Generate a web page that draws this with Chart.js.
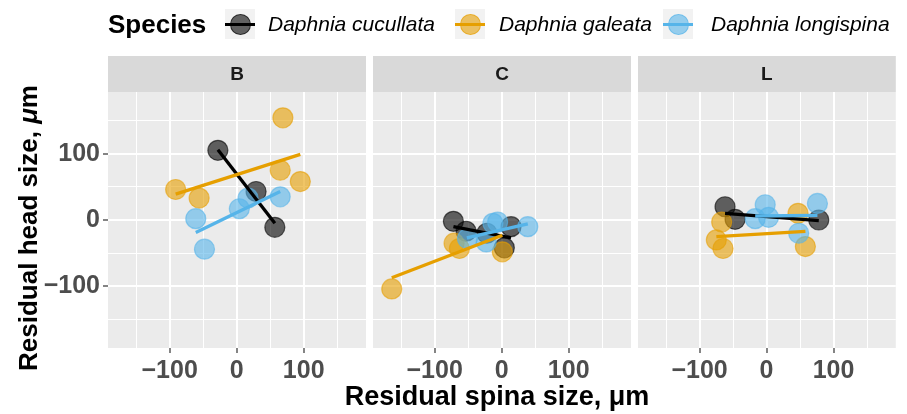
<!DOCTYPE html>
<html>
<head>
<meta charset="utf-8">
<script src="https://cdn.jsdelivr.net/npm/chart.js@4.4.1/dist/chart.umd.min.js"></script>
<style>
    body { margin: 0; background: #fff; font-family: "Liberation Sans", Arial, sans-serif; }
    #wrap { position: relative; width: 907px; height: 414px; overflow: hidden; }
    canvas { position: absolute; left: 0; top: 0; }
    .txt { position: absolute; white-space: nowrap; color: #000; }
    .key { position: absolute; top: 9px; width: 30px; height: 30px; background: #F2F2F2; }
    .key .dot { position: absolute; left: 4.5px; top: 4.5px; width: 19px; height: 19px; border-radius: 50%; border-width: 1px; border-style: solid; }
    .key .bar { position: absolute; left: 0; top: 13.5px; width: 30px; height: 3px; }
    .lab { position: absolute; top: 10px; line-height: 28px; font-size: 21px; font-style: italic; white-space: nowrap; }
</style>
</head>
<body>
<div id="wrap">
    <canvas id="B" width="907" height="414"></canvas>
    <canvas id="C" width="907" height="414"></canvas>
    <canvas id="L" width="907" height="414"></canvas>

    <div class="txt" style="left:108px; top:10px; line-height:28px; font-size:26px; font-weight:bold;">Species</div>
    <div id="Legend"></div>

    <div class="txt" style="left:297px; top:381px; width:400px; text-align:center; line-height:30px; font-size:27px; font-weight:bold;">Residual spina size, μm</div>
    <div class="txt" style="left:-172px; top:213px; width:400px; text-align:center; line-height:30px; font-size:26px; font-weight:bold; transform:rotate(-90deg);">Residual head size, <i>μ</i>m</div>
</div>

<script>
// facets and groups
var panels = ['B', 'C', 'L']
var species = ['Daphnia cucullata', 'Daphnia galeata', 'Daphnia longispina']

// grid every 50, labels every 100
var xTicks = [-150, -100, -50, 0, 50, 100, 150]
var yTicks = [-150, -100, -50, 0, 50, 100, 150]
var tickLabels = [-100, 0, 100]

// [spina residual, head residual]
var B_cucullata = [[-28, 105], [29, 43], [57, -11]]
var B_galeata = [[-91, 46], [-56, 33], [65, 75], [95, 58], [69, 154]]
var B_longispina = [[-61, 2], [-48, -44], [4, 17], [17, 33], [65, 35]]

var C_cucullata = [[-72, -2], [-53, -17], [-22, -20], [14, -10], [4, -42]]
var C_galeata = [[-164, -104], [-71, -35], [-63, -43], [1, -48]]
var C_longispina = [[-51, -28], [-23, -33], [-13, -5], [-6, -3], [39, -10]]

var L_cucullata = [[-62, 20], [-47, 1], [78, 0]]
var L_galeata = [[-67, -3], [-75, -30], [-65, -43], [47, 10], [58, -40]]
var L_longispina = [[-2, 23], [-17, 2], [3, 4], [76, 25], [48, -20]]

// fitted lines (ends)
var B_cucullata_fit = [[-28, 106], [57, -5]]
var B_galeata_fit = [[-91, 39], [95, 99]]
var B_longispina_fit = [[-61, -19], [65, 43]]

var C_cucullata_fit = [[-72, -10], [14, -27]]
var C_galeata_fit = [[-164, -87], [1, -23]]
var C_longispina_fit = [[-52, -27], [39, -6]]

var L_cucullata_fit = [[-62, 10], [78, -1]]
var L_galeata_fit = [[-75, -25], [58, -17]]
var L_longispina_fit = [[-17, 6], [76, 7]]

var colors = ['0, 0, 0', '230, 159, 0', '86, 180, 233']

window.onload = () => {
    MakeLegend()
    PanelChart('B', [B_cucullata, B_galeata, B_longispina], [B_cucullata_fit, B_galeata_fit, B_longispina_fit], 108, 366, true)
    PanelChart('C', [C_cucullata, C_galeata, C_longispina], [C_cucullata_fit, C_galeata_fit, C_longispina_fit], 373, 631, false)
    PanelChart('L', [L_cucullata, L_galeata, L_longispina], [L_cucullata_fit, L_galeata_fit, L_longispina_fit], 638, 896, false)
}

function MakeLegend() {
    var legend = document.getElementById('Legend')
    var keyLeft = [225, 455, 663]
    var labLeft = [268, 499, 711]
    for (var i = 0; i < species.length; i++) {
        var key = document.createElement('div')
        key.className = 'key'
        key.style.left = keyLeft[i] + 'px'
        var dot = document.createElement('div')
        dot.className = 'dot'
        dot.style.backgroundColor = 'rgba(' + colors[i] + ', 0.6)'
        dot.style.borderColor = 'rgba(' + colors[i] + ', 0.6)'
        var bar = document.createElement('div')
        bar.className = 'bar'
        bar.style.backgroundColor = 'rgb(' + colors[i] + ')'
        key.append(dot, bar)

        var lab = document.createElement('div')
        lab.className = 'lab'
        lab.style.left = labLeft[i] + 'px'
        lab.innerHTML = species[i]
        legend.append(key, lab)
    }
}

function isMajor(v) {
    return tickLabels.indexOf(v) >= 0
}

function PanelChart(name, points, fits, left, right, showY) {
    var datasets = []
    for (var i = 0; i < species.length; i++) {
        datasets.push({
            type: 'line',
            label: species[i] + ' fit',
            data: fits[i].map(p => ({ x: p[0], y: p[1] })),
            borderColor: 'rgb(' + colors[i] + ')',
            borderWidth: 3.3,
            pointRadius: 0,
            fill: false,
            order: 2 - i
        })
    }
    for (var i = 0; i < species.length; i++) {
        datasets.push({
            type: 'scatter',
            label: species[i],
            data: points[i].map(p => ({ x: p[0], y: p[1] })),
            backgroundColor: 'rgba(' + colors[i] + ', 0.6)',
            borderColor: 'rgba(' + colors[i] + ', 0.6)',
            borderWidth: 1.2,
            pointRadius: 10,
            order: 12 - i
        })
    }

    var panelBack = {
        id: 'panelBack',
        beforeDraw: (chart) => {
            var a = chart.chartArea
            var ctx = chart.ctx
            ctx.save()
            ctx.fillStyle = '#EBEBEB'
            ctx.fillRect(a.left, a.top, a.right - a.left, a.bottom - a.top)
            ctx.fillStyle = '#D9D9D9'
            ctx.fillRect(a.left, 56, a.right - a.left, a.top - 56)
            ctx.fillStyle = '#1A1A1A'
            ctx.font = 'bold 19px "Liberation Sans", Arial, sans-serif'
            ctx.textAlign = 'center'
            ctx.textBaseline = 'middle'
            ctx.fillText(name, (a.left + a.right) / 2, 75)
            ctx.restore()
        }
    }

    var tickFont = { family: '"Liberation Sans", Arial, sans-serif', size: 25, weight: 'bold' }

    var ctx = document.getElementById(name).getContext('2d')
    var myChart = new Chart(ctx, {
        type: 'scatter',
        data: { datasets: datasets },
        options: {
            responsive: false,
            animation: false,
            devicePixelRatio: 1,
            layout: { padding: { left: showY ? 0 : left, right: 907 - right, top: 92, bottom: 0 } },
            plugins: { legend: { display: false }, tooltip: { enabled: false } },
            scales: {
                x: {
                    type: 'linear',
                    min: -192,
                    max: 193,
                    afterBuildTicks: (s) => { s.ticks = xTicks.map(v => ({ value: v })) },
                    afterFit: (s) => { s.height = 66 },
                    border: { display: false },
                    grid: {
                        color: '#FFFFFF',
                        lineWidth: (c) => isMajor(c.tick.value) ? 2 : 1,
                        tickLength: 5,
                        tickWidth: 1.2,
                        tickColor: (c) => isMajor(c.tick.value) ? '#333333' : 'rgba(0,0,0,0)'
                    },
                    ticks: {
                        autoSkip: false,
                        maxRotation: 0,
                        padding: 3,
                        color: '#4D4D4D',
                        font: tickFont,
                        callback: (v) => isMajor(v) ? String(v).replace('-', '\u2212') : ''
                    }
                },
                y: {
                    type: 'linear',
                    min: -193,
                    max: 193,
                    afterBuildTicks: (s) => { s.ticks = yTicks.map(v => ({ value: v })) },
                    afterFit: (s) => { s.width = showY ? left : 0 },
                    border: { display: false },
                    grid: {
                        color: '#FFFFFF',
                        lineWidth: (c) => isMajor(c.tick.value) ? 2 : 1,
                        drawTicks: showY,
                        tickLength: 5,
                        tickWidth: 1.2,
                        tickColor: (c) => isMajor(c.tick.value) ? '#333333' : 'rgba(0,0,0,0)'
                    },
                    ticks: {
                        display: showY,
                        autoSkip: false,
                        padding: 3,
                        color: '#4D4D4D',
                        font: tickFont,
                        callback: (v) => isMajor(v) ? String(v).replace('-', '\u2212') : ''
                    }
                }
            }
        },
        plugins: [panelBack]
    });
}
</script>
</body>
</html>
